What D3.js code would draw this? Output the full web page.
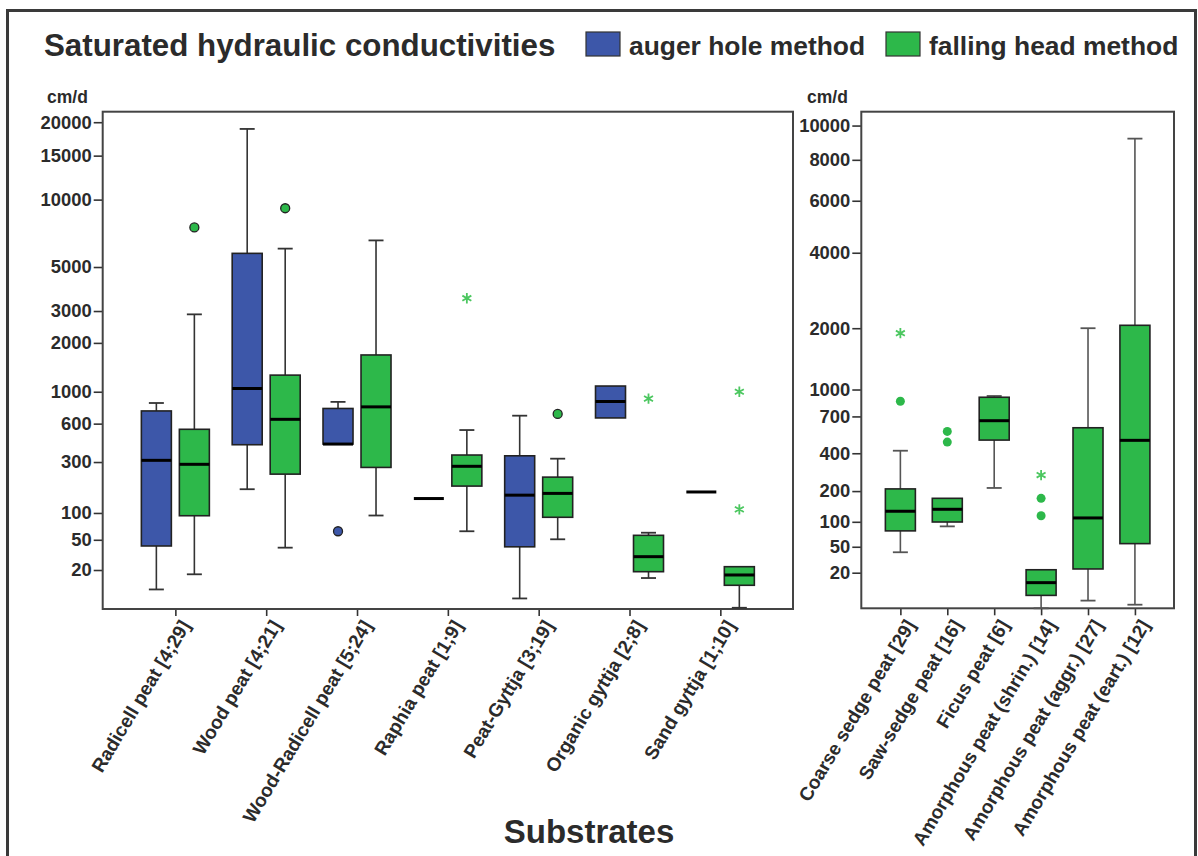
<!DOCTYPE html>
<html>
<head>
<meta charset="utf-8">
<script src="https://cdn.jsdelivr.net/npm/d3@7"></script>
<style>
  html, body { margin: 0; padding: 0; background: #fff; }
  svg { display: block; }
  text { font-family: "Liberation Sans", Arial, sans-serif; font-weight: bold; fill: #2b2b2b; }
</style>
</head>
<body>
<svg id="chart" width="1198" height="856"></svg>
<script>
// ---- data: five-number summaries [min, q1, median, q3, max] in cm/d ----
const leftCategories = [
  "Radicell peat [4;29]", "Wood peat [4;21]", "Wood-Radicell peat [5;24]",
  "Raphia peat [1;9]", "Peat-Gyttja [3;19]", "Organic gyttja [2;8]", "Sand gyttja [1;10]"
];
const augerBoxes = [
  [10, 42, 310, 740, 840],
  [172, 415, 1050, 5800, 18900],
  [420, 420, 420, 770, 855],
  [140, 140, 140, 140, 140],
  [7, 41, 151, 338, 685],
  [660, 660, 860, 1090, 1090],
  [162, 162, 162, 162, 162]
];
const augerOutliers = [[], [], [63], [], [], [], []];
const augerExtremes = [[], [], [], [], [], [], []];

const fallingBoxes = [
  [17.3, 93.5, 287, 545, 2880],
  [40, 236, 645, 1280, 6100],
  [94, 270, 790, 1700, 6650],
  [63, 184, 276, 343, 538],
  [50.7, 90, 157, 222, 320],
  [15.2, 18.9, 30.6, 56.5, 60.6],
  [4.7, 11.7, 16.9, 22.3, 22.3]
];
const fallingOutliers = [[7600], [9200], [], [], [705], [], []];
const fallingExtremes = [[], [], [], [3500], [], [900], [1000, 109]];

const rightCategories = [
  "Coarse sedge peat [29]", "Saw-sedge peat [16]", "Ficus peat [6]",
  "Amorphous peat (shrin.) [14]", "Amorphous peat (aggr.) [27]", "Amorphous peat (eart.) [12]"
];
const rightBoxes = [
  [42, 79, 129, 209, 417],
  [89, 99.5, 135, 172, 172],
  [213, 494, 659, 906, 921],
  [3.0, 6.8, 13, 22.5, 22.5],
  [5.0, 23.2, 110, 595, 2000],
  [3.85, 55, 492, 2060, 9200]
];
const rightOutliers = [[860], [479, 564], [], [116, 172], [], []];
const rightExtremes = [[1900], [], [], [273], [], []];

const leftTicks = [20, 50, 100, 300, 600, 1000, 2000, 3000, 5000, 10000, 15000, 20000];
const rightTicks = [20, 50, 100, 200, 400, 700, 1000, 2000, 4000, 6000, 8000, 10000];

// ---- drawing ----
const BLUE = "#3d57a9", GREEN = "#2db84a", STAR = "#4cc760";
const svg = d3.select("#chart");

// outer frame
svg.append("rect").attr("x", 7.5).attr("y", 10.5).attr("width", 1188).attr("height", 880)
  .attr("fill", "none").attr("stroke", "#3a3a3a").attr("stroke-width", 3);

svg.append("text").attr("x", 44).attr("y", 56).attr("font-size", 31.3)
  .text("Saturated hydraulic conductivities");

// legend
const legend = [["auger hole method", BLUE, 586], ["falling head method", GREEN, 886]];
legend.forEach(([label, col, x]) => {
  svg.append("rect").attr("x", x).attr("y", 32).attr("width", 34).attr("height", 24)
    .attr("fill", col).attr("stroke", "#333").attr("stroke-width", 1.2);
  svg.append("text").attr("x", x + 43).attr("y", 55).attr("font-size", 26.4).text(label);
});

svg.append("text").attr("x", 589).attr("y", 843).attr("text-anchor", "middle")
  .attr("font-size", 33).text("Substrates");

function panel(cfg) {
  const { x0, x1, y0, y1, cats, pad, domain, exponent, ticks, series, unitX, outlineDots, whiskerColor } = cfg;
  const g = svg.append("g");
  const x = d3.scalePoint().domain(cats).range([x0, x1]).padding(pad);
  const y = d3.scalePow().exponent(exponent).domain(domain).range([y1, y0]);

  // y axis
  const ya = g.append("g").attr("transform", `translate(${x0},0)`)
    .call(d3.axisLeft(y).tickValues(ticks).tickSize(9).tickPadding(2).tickFormat(d3.format("d")));
  ya.select(".domain").remove();
  ya.selectAll(".tick line").attr("stroke", "#333").attr("stroke-width", 1.6);
  ya.selectAll(".tick text").attr("font-size", 18.4).attr("fill", "#2b2b2b")
    .attr("font-family", "Liberation Sans, Arial, sans-serif").attr("font-weight", "bold");

  g.append("text").attr("x", unitX).attr("y", 103).attr("font-size", 17.5).text("cm/d");

  // x axis ticks
  const xa = g.append("g").attr("transform", `translate(0,${y1})`)
    .call(d3.axisBottom(x).tickSize(7).tickFormat(""));
  xa.select(".domain").remove();
  xa.selectAll(".tick line").attr("stroke", "#333").attr("stroke-width", 1.6);

  // frame
  g.append("rect").attr("x", x0).attr("y", y0).attr("width", x1 - x0).attr("height", y1 - y0)
    .attr("fill", "none").attr("stroke", "#444").attr("stroke-width", 2);

  // category labels
  g.selectAll("text.cat").data(cats).join("text").attr("class", "cat")
    .attr("text-anchor", "end").attr("font-size", 19)
    .attr("transform", d => `translate(${x(d) + 10},${y1 + 13}) rotate(-59)`)
    .attr("dy", "0.35em").text(d => d);

  const bw = 30;
  series.forEach(s => {
    cats.forEach((c, i) => {
      const b = s.boxes[i];
      if (!b) return;
      const cx = x(c) + s.offset;
      const [mn, q1, md, q3, mx] = b;
      const bg = g.append("g");
      // whiskers
      if (mx > q3) {
        bg.append("line").attr("x1", cx).attr("x2", cx).attr("y1", y(q3)).attr("y2", y(mx))
          .attr("stroke", whiskerColor).attr("stroke-width", 1.6);
        bg.append("line").attr("x1", cx - 7.5).attr("x2", cx + 7.5).attr("y1", y(mx)).attr("y2", y(mx))
          .attr("stroke", whiskerColor).attr("stroke-width", 1.8);
      }
      if (mn < q1) {
        bg.append("line").attr("x1", cx).attr("x2", cx).attr("y1", y(q1)).attr("y2", y(mn))
          .attr("stroke", whiskerColor).attr("stroke-width", 1.6);
        bg.append("line").attr("x1", cx - 7.5).attr("x2", cx + 7.5).attr("y1", y(mn)).attr("y2", y(mn))
          .attr("stroke", whiskerColor).attr("stroke-width", 1.8);
      }
      if (q3 > q1) {
        bg.append("rect").attr("x", cx - bw / 2).attr("y", y(q3)).attr("width", bw)
          .attr("height", y(q1) - y(q3)).attr("fill", s.color)
          .attr("stroke", "#222").attr("stroke-width", 1.6);
      }
      bg.append("line").attr("x1", cx - bw / 2).attr("x2", cx + bw / 2)
        .attr("y1", y(md)).attr("y2", y(md)).attr("stroke", "#000").attr("stroke-width", 3);

      (s.outliers[i] || []).forEach(v => {
        bg.append("circle").attr("cx", cx).attr("cy", y(v)).attr("r", 4.5)
          .attr("fill", s.color).attr("stroke", outlineDots ? "#222" : "none").attr("stroke-width", 1.3);
      });
      (s.extremes[i] || []).forEach(v => {
        bg.append("path").attr("transform", `translate(${cx},${y(v)})`)
          .attr("d", d3.symbol(d3.symbolAsterisk, 75)()).attr("stroke", STAR).attr("stroke-width", 1.8)
          .attr("fill", "none");
      });
    });
  });
}

panel({
  x0: 102.7, x1: 793, y0: 111.7, y1: 609, cats: leftCategories, pad: 0.8,
  domain: [4.45, 21820], exponent: 0.2, ticks: leftTicks, unitX: 47, outlineDots: true,
  whiskerColor: "#333",
  series: [
    { boxes: augerBoxes, outliers: augerOutliers, extremes: augerExtremes, color: BLUE, offset: -19 },
    { boxes: fallingBoxes, outliers: fallingOutliers, extremes: fallingExtremes, color: GREEN, offset: 19 }
  ]
});

panel({
  x0: 861.3, x1: 1174, y0: 111.7, y1: 608.3, cats: rightCategories, pad: 0.833,
  domain: [3.0, 10900], exponent: 0.3, ticks: rightTicks, unitX: 807, outlineDots: false,
  whiskerColor: "#555",
  series: [
    { boxes: rightBoxes, outliers: rightOutliers, extremes: rightExtremes, color: GREEN, offset: 0 }
  ]
});
</script>
</body>
</html>
